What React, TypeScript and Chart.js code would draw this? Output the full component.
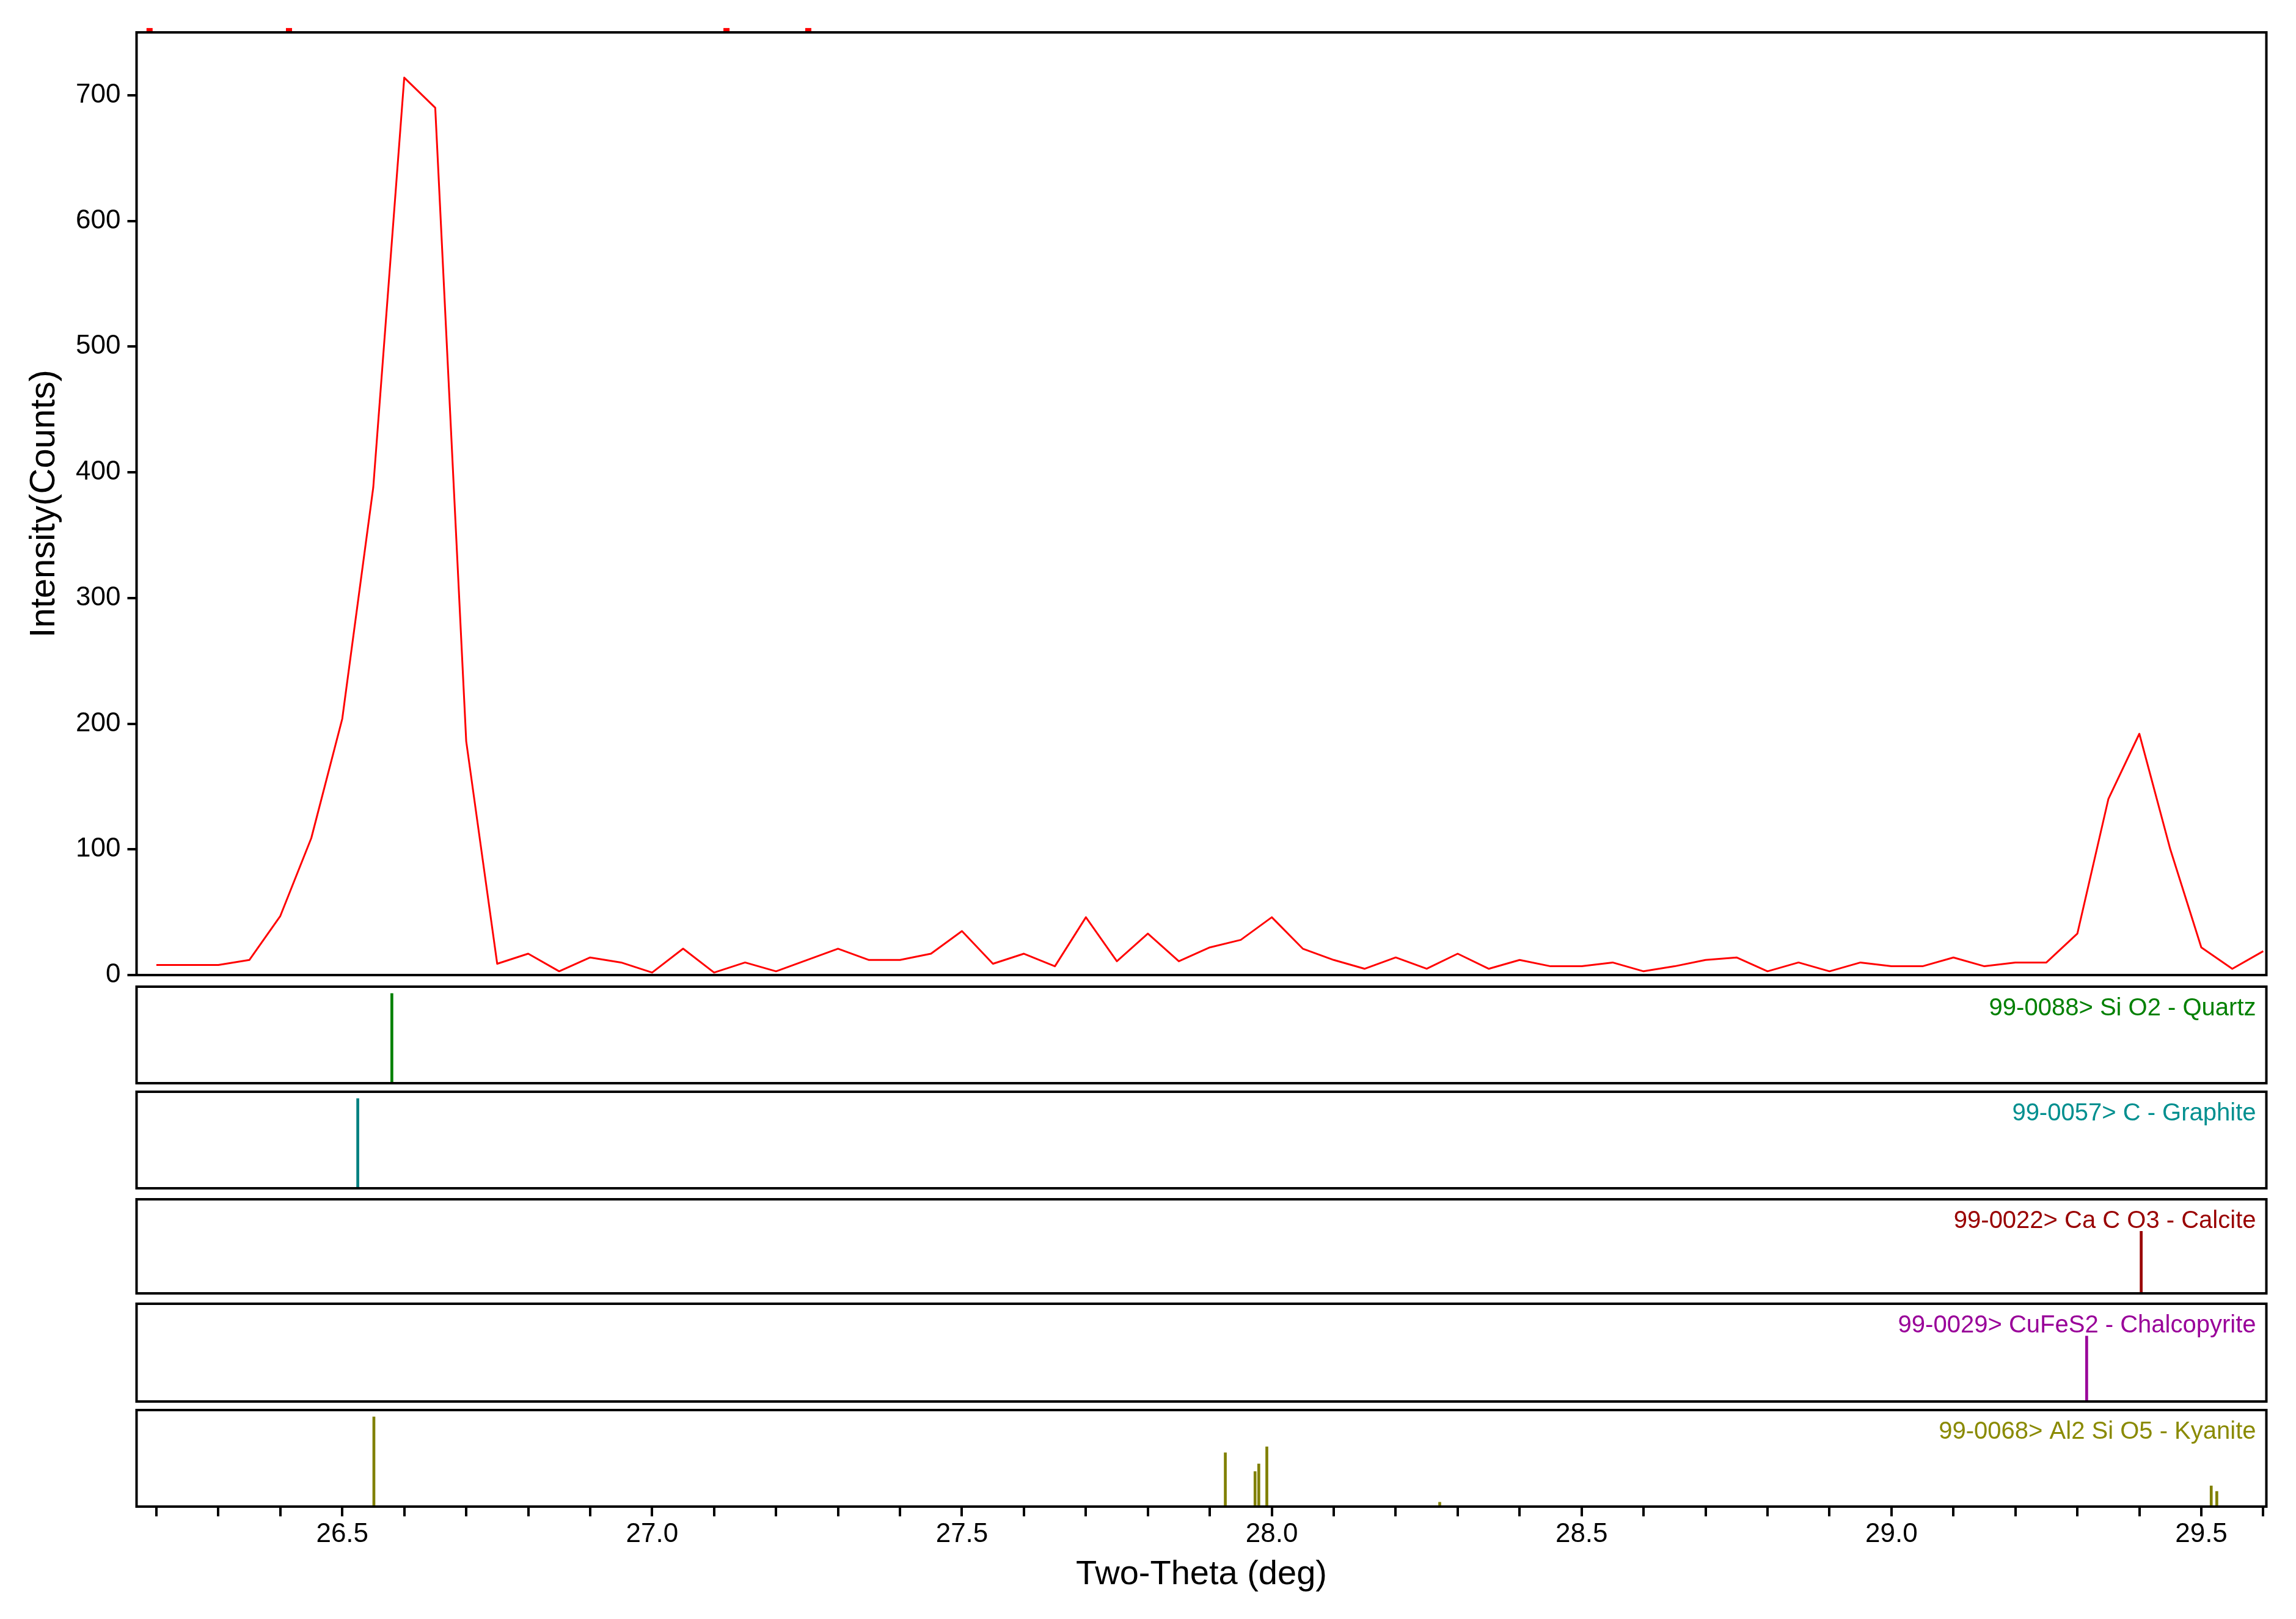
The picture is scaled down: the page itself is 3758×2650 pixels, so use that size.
import React, { useEffect, useRef } from "react";
import { Chart, registerables } from "chart.js";

Chart.register(...registerables);

// ---- data ----
const twoTheta = [
  26.20, 26.25, 26.30, 26.35, 26.40, 26.45, 26.50, 26.55, 26.60, 26.65,
  26.70, 26.75, 26.80, 26.85, 26.90, 26.95, 27.00, 27.05, 27.10, 27.15,
  27.20, 27.25, 27.30, 27.35, 27.40, 27.45, 27.50, 27.55, 27.60, 27.65,
  27.70, 27.75, 27.80, 27.85, 27.90, 27.95, 28.00, 28.05, 28.10, 28.15,
  28.20, 28.25, 28.30, 28.35, 28.40, 28.45, 28.50, 28.55, 28.60, 28.65,
  28.70, 28.75, 28.80, 28.85, 28.90, 28.95, 29.00, 29.05, 29.10, 29.15,
  29.20, 29.25, 29.30, 29.35, 29.40, 29.45, 29.50, 29.55, 29.60,
];
const counts = [
  8, 8, 8, 12, 47, 109, 204, 388, 714, 690,
  186, 9, 17, 3, 14, 10, 2, 21, 2, 10,
  3, 12, 21, 12, 12, 17, 35, 9, 17, 7,
  46, 11, 33, 11, 22, 28, 46, 21, 12, 5,
  14, 5, 17, 5, 12, 7, 7, 10, 3, 7,
  12, 14, 3, 10, 3, 10, 7, 7, 14, 7,
  10, 10, 33, 140, 192, 100, 22, 5, 19,
];
const yTickValues = [0, 100, 200, 300, 400, 500, 600, 700];
const xTickValues = [
  26.2, 26.3, 26.4, 26.5, 26.6, 26.7, 26.8, 26.9, 27.0, 27.1, 27.2, 27.3,
  27.4, 27.5, 27.6, 27.7, 27.8, 27.9, 28.0, 28.1, 28.2, 28.3, 28.4, 28.5,
  28.6, 28.7, 28.8, 28.9, 29.0, 29.1, 29.2, 29.3, 29.4, 29.5, 29.6,
];
const xTickLabels = ["26.5", "27.0", "27.5", "28.0", "28.5", "29.0", "29.5"];
const peakMarkers = [26.189, 26.414, 27.12, 27.252];

const quartzLines = [26.58];
const quartzInt = [100];
const graphiteLines = [26.525];
const graphiteInt = [100];
const calciteLines = [29.403];
const calciteInt = [71];
const chalcopyriteLines = [29.315];
const chalcopyriteInt = [72];
const kyaniteLines = [26.551, 27.925, 27.973, 27.979, 27.992, 28.271, 29.516, 29.525];
const kyaniteInt = [100, 60, 39, 47.6, 66.7, 4.8, 23, 17];

const phaseNames = [
  "99-0088> Si O2 - Quartz",
  "99-0057> C - Graphite",
  "99-0022> Ca C O3 - Calcite",
  "99-0029> CuFeS2 - Chalcopyrite",
  "99-0068> Al2 Si O5 - Kyanite",
];

// ---- layout / style constants ----
const W = 3758;
const H = 2650;
const X_MIN = 26.168;
const X_MAX = 29.605;
const Y_MAX = 750;
const AREA_LEFT = 223.5;
const AREA_RIGHT_PAD = W - 3709.5;
const FONT = "'Liberation Sans', Arial, sans-serif";

Chart.defaults.font.family = FONT;

const framePlugin = {
  id: "frame",
  afterDatasetsDraw(chart: any, _args: any, opts: any) {
    const { ctx, chartArea: a } = chart;
    ctx.save();
    ctx.strokeStyle = "#000";
    ctx.lineWidth = 4;
    ctx.strokeRect(a.left, a.top, a.right - a.left, a.bottom - a.top);
    if (opts && opts.label) {
      ctx.font = `40px ${FONT}`;
      ctx.fillStyle = opts.color;
      ctx.textAlign = "right";
      ctx.textBaseline = "alphabetic";
      ctx.fillText(opts.label, a.right - 17, a.top + 47);
    }
    ctx.restore();
  },
};

type Panel = {
  top: number;
  bottom: number;
  lines: number[];
  ints: number[];
  color: string;
  textColor: string;
  label: string;
  axis: boolean;
};

const panels: Panel[] = [
  { top: 1615, bottom: 1773, lines: quartzLines, ints: quartzInt, color: "#008000", textColor: "#008000", label: phaseNames[0], axis: false },
  { top: 1786.5, bottom: 1944.5, lines: graphiteLines, ints: graphiteInt, color: "#008080", textColor: "#008f8f", label: phaseNames[1], axis: false },
  { top: 1963, bottom: 2117, lines: calciteLines, ints: calciteInt, color: "#990000", textColor: "#990000", label: phaseNames[2], axis: false },
  { top: 2134, bottom: 2294, lines: chalcopyriteLines, ints: chalcopyriteInt, color: "#990099", textColor: "#990099", label: phaseNames[3], axis: false },
  { top: 2308, bottom: 2466, lines: kyaniteLines, ints: kyaniteInt, color: "#808000", textColor: "#8a8a00", label: phaseNames[4], axis: true },
];

const PAD = 12;
const MAIN_H = 1640;

function canvasTop(p: Panel) {
  return p.top - PAD;
}
function canvasHeight(p: Panel) {
  return p.axis ? H - (p.top - PAD) : p.bottom - p.top + 2 * PAD;
}

export default function App() {
  const mainRef = useRef<HTMLCanvasElement | null>(null);
  const panelRefs = useRef<(HTMLCanvasElement | null)[]>([]);

  useEffect(() => {
    const charts: Chart[] = [];
    if (mainRef.current) {
      charts.push(
        new Chart(mainRef.current, {
          type: "line",
          data: {
            datasets: [
              {
                data: twoTheta.map((x, i) => ({ x, y: counts[i] })),
                borderColor: "#ff0000",
                borderWidth: 3,
                borderJoinStyle: "round",
                pointRadius: 0,
                tension: 0,
                fill: false,
              },
              {
                data: peakMarkers.map((x) => ({ x, y: 752 })),
                showLine: false,
                borderColor: "#ff0000",
                backgroundColor: "#ff0000",
                pointStyle: "line",
                pointRadius: 5,
                pointBorderWidth: 6,
                clip: false,
              },
            ],
          } as any,
          options: {
            animation: false,
            responsive: false,
            devicePixelRatio: 1,
            events: [],
            layout: { padding: { left: 0, right: AREA_RIGHT_PAD, top: 53, bottom: MAIN_H - 1596 } },
            plugins: {
              legend: { display: false },
              tooltip: { enabled: false },
              frame: {},
            } as any,
            scales: {
              x: { type: "linear", min: X_MIN, max: X_MAX, display: false },
              y: {
                type: "linear",
                min: 0,
                max: Y_MAX,
                afterFit: (s: any) => {
                  s.width = AREA_LEFT;
                },
                afterBuildTicks: (s: any) => {
                  s.ticks = yTickValues.map((v) => ({ value: v }));
                },
                ticks: { color: "#000", font: { size: 44 }, padding: 11 },
                grid: { drawOnChartArea: false, drawTicks: true, tickLength: 15, lineWidth: 4, color: "#000" },
                border: { display: false },
                title: {
                  display: true,
                  text: "Intensity(Counts)",
                  color: "#000",
                  font: { size: 58 },
                  padding: { top: 38, bottom: 0 },
                },
              },
            },
          } as any,
          plugins: [framePlugin],
        })
      );
    }

    panels.forEach((p, idx) => {
      const el = panelRefs.current[idx];
      if (!el) return;
      const xScale: any = {
        type: "linear",
        min: X_MIN,
        max: X_MAX,
        offset: false,
        display: p.axis,
        grid: { offset: false, drawOnChartArea: false, drawTicks: true, tickLength: 16, lineWidth: 4, color: "#000" },
        border: { display: false },
      };
      if (p.axis) {
        xScale.afterBuildTicks = (s: any) => {
          s.ticks = xTickValues.map((v) => ({ value: v }));
        };
        xScale.afterFit = (s: any) => {
          s.height = H - p.bottom;
        };
        xScale.ticks = {
          autoSkip: false,
          maxRotation: 0,
          minRotation: 0,
          color: "#000",
          font: { size: 44 },
          padding: 3,
          callback: (v: any) => {
            const s = Number(v).toFixed(1);
            return xTickLabels.includes(s) ? s : "";
          },
        };
        xScale.title = {
          display: true,
          text: "Two-Theta (deg)",
          color: "#000",
          font: { size: 56 },
          padding: { top: 0, bottom: 39 },
        };
      }
      charts.push(
        new Chart(el, {
          type: "bar",
          data: {
            datasets: [
              {
                data: p.lines.map((x, i) => ({ x, y: p.ints[i] })),
                backgroundColor: p.color,
                borderWidth: 0,
                barThickness: 4,
              },
            ],
          } as any,
          options: {
            animation: false,
            responsive: false,
            devicePixelRatio: 1,
            events: [],
            layout: {
              padding: { left: AREA_LEFT, right: AREA_RIGHT_PAD, top: PAD, bottom: p.axis ? 0 : PAD },
            },
            plugins: {
              legend: { display: false },
              tooltip: { enabled: false },
              frame: { label: p.label, color: p.textColor },
            } as any,
            scales: {
              x: xScale,
              y: { type: "linear", min: 0, max: 107.5, display: false },
            },
          } as any,
          plugins: [framePlugin],
        })
      );
    });

    return () => {
      charts.forEach((c) => c.destroy());
    };
  }, []);

  return (
    <div
      style={{
        position: "absolute",
        left: 0,
        top: 0,
        width: W,
        height: H,
        overflow: "hidden",
        background: "#fff",
      }}
    >
      <canvas
        ref={mainRef}
        width={W}
        height={MAIN_H}
        style={{ position: "absolute", left: 0, top: 0 }}
      />
      {panels.map((p, i) => (
        <canvas
          key={i}
          ref={(el) => {
            panelRefs.current[i] = el;
          }}
          width={W}
          height={canvasHeight(p)}
          style={{ position: "absolute", left: 0, top: canvasTop(p) }}
        />
      ))}
    </div>
  );
}
